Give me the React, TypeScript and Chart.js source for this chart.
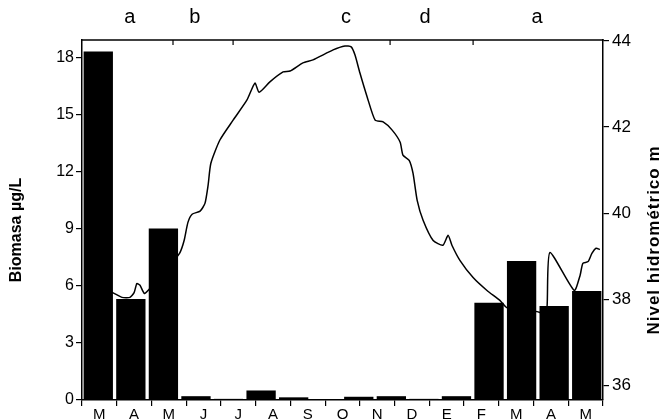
import React, { useEffect, useRef } from 'react';
import { Chart, registerables } from 'chart.js';

Chart.register(...registerables);

// Month tick labels along the bottom axis
const monthLabels = ['M', 'A', 'M', 'J', 'J', 'A', 'S', 'O', 'N', 'D', 'E', 'F', 'M', 'A', 'M'];

// Biomass samples (16 sampling dates, evenly spaced)
const sampleLabels = ['1', '2', '3', '4', '5', '6', '7', '8', '9', '10', '11', '12', '13', '14', '15', '16'];
const biomass = [18.3, 5.3, 9.0, 0.2, 0.06, 0.5, 0.14, 0, 0.17, 0.2, 0.06, 0.2, 5.1, 7.3, 4.93, 5.72];

// Hydrometric level: time in months from start of axis, level in m
const levelTime = [
  0.81, 0.98, 1.15, 1.38, 1.5, 1.58, 1.67, 1.81, 2.65, 2.82, 2.94, 3.05, 3.17, 3.4, 3.54, 3.63,
  3.71, 3.97, 4.35, 4.75, 4.98, 5.1, 5.41, 5.79, 5.99, 6.36, 6.65, 7.23, 7.57, 7.75, 7.86, 8.0,
  8.21, 8.44, 8.67, 8.93, 9.16, 9.24, 9.42, 9.53, 9.65, 9.82, 10.11, 10.39, 10.54, 10.65, 10.88,
  11.26, 11.66, 12.03, 12.24, 13.1, 13.33, 13.39, 13.47, 14.17, 14.34, 14.42, 14.57, 14.68, 14.8, 14.91,
];
const levelValue = [
  38.19, 38.12, 38.05, 38.05, 38.16, 38.37, 38.33, 38.14, 38.91, 39.09, 39.37, 39.79, 39.98, 40.05, 40.23, 40.65,
  41.16, 41.7, 42.16, 42.63, 43.02, 42.81, 43.05, 43.28, 43.3, 43.49, 43.56, 43.79, 43.88, 43.86, 43.67, 43.26,
  42.7, 42.16, 42.12, 41.93, 41.65, 41.35, 41.23, 40.93, 40.3, 39.84, 39.37, 39.26, 39.49, 39.26, 38.91,
  38.51, 38.21, 37.98, 37.81, 37.72, 37.67, 37.84, 39.09, 38.21, 38.56, 38.84, 38.88, 39.07, 39.19, 39.16,
];

// Hydrological phases marked along the top
const phaseLabels = ['a', 'b', 'c', 'd', 'a'];
const phaseLabelTime = [1.38, 3.25, 7.6, 9.88, 13.1];
const phaseBoundTime = [2.62, 4.35, 8.87, 11.26];

const leftTitle = 'Biomasa µg/L';
const rightTitle = 'Nivel hidrométrico m';

const FONT = '"Liberation Sans", Arial, sans-serif';

const overlay = {
  id: 'overlay',
  afterDraw(chart: any) {
    const { ctx, chartArea: a } = chart;
    const xs = chart.scales.x2;
    ctx.save();
    ctx.strokeStyle = '#000';
    ctx.lineWidth = 1.5;
    ctx.beginPath();
    ctx.moveTo(a.left - 0.75, a.top);
    ctx.lineTo(a.right + 0.75, a.top);
    ctx.stroke();
    ctx.lineWidth = 1.2;
    phaseBoundTime.forEach((t) => {
      const px = xs.getPixelForValue(t);
      ctx.beginPath();
      ctx.moveTo(px, a.top);
      ctx.lineTo(px, a.top + 5);
      ctx.stroke();
    });
    ctx.fillStyle = '#000';
    ctx.font = `20px ${FONT}`;
    ctx.textAlign = 'center';
    ctx.textBaseline = 'alphabetic';
    phaseLabels.forEach((l, i) => {
      ctx.fillText(l, xs.getPixelForValue(phaseLabelTime[i]), 23);
    });
    ctx.textBaseline = 'middle';
    ctx.font = `bold 16px ${FONT}`;
    ctx.save();
    ctx.translate(17, 230);
    ctx.rotate(-Math.PI / 2);
    ctx.fillText(leftTitle, 0, 0);
    ctx.restore();
    ctx.save();
    ctx.font = `bold 17px ${FONT}`;
    try { (ctx as any).letterSpacing = '1px'; } catch (e) {}
    ctx.translate(654, 240);
    ctx.rotate(-Math.PI / 2);
    ctx.fillText(rightTitle, 0, 0);
    ctx.restore();
    ctx.restore();
  },
};

export default function App() {
  const ref = useRef<HTMLCanvasElement>(null);
  useEffect(() => {
    const canvas = ref.current;
    if (!canvas) return;
    const chart = new Chart(canvas, {
      type: 'bar',
      data: {
        labels: sampleLabels,
        datasets: [
          {
            type: 'bar',
            label: 'Biomasa',
            data: biomass,
            backgroundColor: '#000',
            borderWidth: 0,
            xAxisID: 'xs',
            yAxisID: 'y',
            grouped: false,
            barPercentage: 0.9,
            categoryPercentage: 1.0,
            order: 1,
          } as any,
          {
            type: 'line',
            label: 'Nivel',
            data: levelTime.map((t, i) => ({ x: t, y: levelValue[i] })),
            borderColor: '#000',
            borderWidth: 1.5,
            pointRadius: 0,
            tension: 0.2,
            fill: false,
            xAxisID: 'x2',
            yAxisID: 'y2',
            order: 2,
          } as any,
        ],
      },
      options: {
        responsive: false,
        animation: false,
        layout: { padding: { top: 40, left: 0, right: 0, bottom: 0 } },
        plugins: { legend: { display: false }, tooltip: { enabled: false } },
        scales: {
          xs: {
            type: 'category',
            display: false,
            offset: true,
            grid: { offset: true },
          },
          x2: {
            type: 'linear',
            display: false,
            offset: false,
            grid: { offset: false },
            min: 0,
            max: 15,
          },
          x: {
            type: 'category',
            labels: monthLabels,
            position: 'bottom',
            offset: true,
            afterFit: (s: any) => { s.height = 20; },
            grid: {
              display: true,
              offset: true,
              drawOnChartArea: false,
              drawTicks: true,
              tickLength: 6,
              color: '#000',
              lineWidth: 1.2,
            },
            border: { display: true, color: '#000', width: 1.5 },
            ticks: {
              color: '#000',
              font: { family: FONT, size: 15 },
              padding: 0,
              maxRotation: 0,
              autoSkip: false,
            },
          },
          y: {
            type: 'linear',
            position: 'left',
            min: 0,
            max: 18.9,
            afterFit: (s: any) => { s.width = 82; },
            grid: {
              display: true,
              drawOnChartArea: false,
              drawTicks: true,
              tickLength: 6,
              color: '#000',
              lineWidth: 1.2,
            },
            border: { display: true, color: '#000', width: 1.5 },
            ticks: {
              stepSize: 3,
              includeBounds: false,
              color: '#000',
              font: { family: FONT, size: 16 },
              padding: 2,
            },
          },
          y2: {
            type: 'linear',
            position: 'right',
            min: 35.67,
            max: 44.02,
            afterFit: (s: any) => { s.width = 63; },
            grid: {
              display: true,
              drawOnChartArea: false,
              drawTicks: true,
              tickLength: 6,
              color: '#000',
              lineWidth: 1.2,
            },
            border: { display: true, color: '#000', width: 1.5 },
            ticks: {
              stepSize: 2,
              includeBounds: false,
              color: '#000',
              font: { family: FONT, size: 17 },
              padding: 3,
            },
          },
        },
      } as any,
      plugins: [overlay],
    });
    return () => chart.destroy();
  }, []);
  return (
    <div style={{ position: 'absolute', left: 0, top: 0, width: 666, height: 420, background: '#fff' }}>
      <canvas ref={ref} width={666} height={420} style={{ display: 'block' }} />
    </div>
  );
}
